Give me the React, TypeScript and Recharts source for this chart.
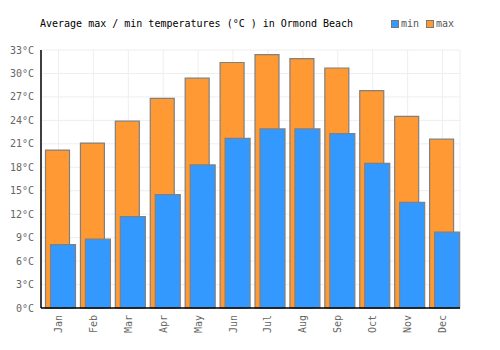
import { Bar, BarChart, CartesianGrid, Rectangle, XAxis, YAxis } from "recharts";

const months = ["Jan", "Feb", "Mar", "Apr", "May", "Jun", "Jul", "Aug", "Sep", "Oct", "Nov", "Dec"];
const maxTemps = [20.2, 21.1, 23.9, 26.8, 29.4, 31.4, 32.4, 31.9, 30.7, 27.8, 24.5, 21.6];
const minTemps = [8.1, 8.8, 11.7, 14.5, 18.3, 21.7, 22.9, 22.9, 22.3, 18.5, 13.5, 9.7];
const yTicks = [0, 3, 6, 9, 12, 15, 18, 21, 24, 27, 30, 33];

const data = months.map((month, i) => ({ month, max: maxTemps[i], min: minTemps[i] }));

const FONT = "'DejaVu Sans Mono', monospace";
const ORANGE = "#FF9933";
const BLUE = "#3399FF";

// nudge bars right so the min bar sits flush with the category edge
function ShiftedBar(props: any) {
  return <Rectangle {...props} x={props.x + 2.5} />;
}

function MonthTick(props: any) {
  const { x, y, payload } = props;
  return (
    <text
      x={x}
      y={y}
      transform={`rotate(-90, ${x}, ${y})`}
      textAnchor="end"
      dy="0.35em"
      fill="#666"
      fontSize={10}
      fontFamily={FONT}
    >
      {payload.value}
    </text>
  );
}

export default function App() {
  return (
    <div style={{ position: "absolute", left: 0, top: 0, width: 500, height: 350, background: "#fff" }}>
      <div
        style={{
          position: "absolute",
          left: 40,
          top: 18,
          fontFamily: FONT,
          fontSize: 10,
          color: "#000",
          whiteSpace: "pre",
        }}
      >
        Average max / min temperatures (°C ) in Ormond Beach
      </div>
      <div
        style={{
          position: "absolute",
          left: 391,
          top: 18,
          display: "flex",
          alignItems: "center",
          fontFamily: FONT,
          fontSize: 10,
          color: "#555",
        }}
      >
        <span style={{ width: 6, height: 6, background: BLUE, border: "1px solid #777", marginRight: 2 }} />
        <span style={{ marginRight: 7 }}>min</span>
        <span style={{ width: 6, height: 6, background: ORANGE, border: "1px solid #777", marginRight: 2 }} />
        <span>max</span>
      </div>
      <BarChart
        width={500}
        height={350}
        data={data}
        margin={{ top: 50, right: 40, bottom: 12, left: 0 }}
        barGap={-19}
      >
        <CartesianGrid stroke="#eeeeee" strokeWidth={1} />
        <XAxis
          dataKey="month"
          height={30}
          axisLine={{ stroke: "#000", strokeWidth: 1.5 }}
          tickLine={false}
          tickSize={0}
          tickMargin={7}
          interval={0}
          tick={<MonthTick />}
        />
        <YAxis
          width={41}
          domain={[0, 33]}
          ticks={yTicks}
          tickFormatter={(v) => `${v}°C`}
          axisLine={{ stroke: "#000", strokeWidth: 1.5 }}
          tickLine={false}
          tickSize={0}
          tickMargin={7}
          tick={{ fill: "#666", fontSize: 10, fontFamily: FONT }}
        />
        <Bar
          dataKey="max"
          barSize={24}
          fill={ORANGE}
          stroke="#808080"
          strokeWidth={1.2}
          shape={ShiftedBar}
          isAnimationActive={false}
        />
        <Bar
          dataKey="min"
          barSize={25}
          fill={BLUE}
          stroke="#808080"
          strokeWidth={1.2}
          shape={ShiftedBar}
          isAnimationActive={false}
        />
      </BarChart>
    </div>
  );
}
